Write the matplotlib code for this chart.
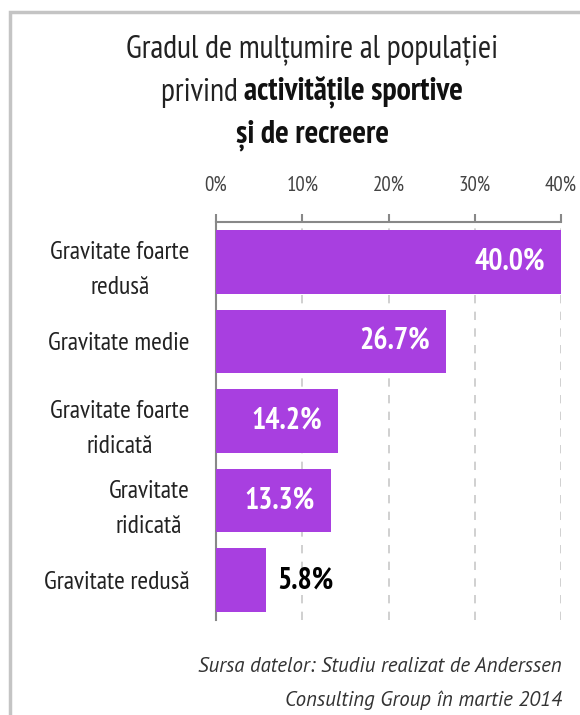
import matplotlib.pyplot as plt
from matplotlib.patches import Rectangle

plt.rcParams['font.family'] = ['PT Sans Narrow', 'DejaVu Sans']

# date
categorii = ['Gravitate foarte\nredusă', 'Gravitate medie', 'Gravitate foarte\nridicată',
             'Gravitate\nridicată', 'Gravitate redusă']
valori = [40.0, 26.7, 14.2, 13.3, 5.8]
ticks = [0, 10, 20, 30, 40]
tick_labels = ['0%', '10%', '20%', '30%', '40%']

culoare = '#A83FE0'
gri = '#444444'

fig = plt.figure(figsize=(5.8, 7.15), dpi=100)
ax = fig.add_axes([216 / 580, 1 - 620 / 715, 345 / 580, 398 / 715])

y = list(range(len(valori)))
ax.barh(y, valori, height=0.8, color=culoare, zorder=3)
ax.set_ylim(len(valori) - 0.5, -0.5)
ax.set_xlim(0, 40)

# etichete valori
for i, v in enumerate(valori):
    txt = f'{v:.1f}%'
    if v > 10:
        ax.annotate(txt, (v, i), xytext=(-11.5, 0), textcoords='offset points',
                    ha='right', va='center', color='white', fontsize=21.5, fontweight='bold')
    else:
        ax.annotate(txt, (v, i), xytext=(8, 0), textcoords='offset points',
                    ha='left', va='center', color='black', fontsize=21.5, fontweight='bold')

ax.set_yticks(y)
ax.set_yticklabels(categorii, fontsize=18.5, color='#222222', multialignment='center',
                   linespacing=1.65)
ax.tick_params(axis='y', length=0, pad=19)

ax.xaxis.tick_top()
ax.set_xticks(ticks)
ax.set_xticklabels(tick_labels, fontsize=15, color=gri)
ax.tick_params(axis='x', length=6, width=1.5, color='#888888', pad=14)

ax.grid(axis='x', color='#c8c8c8', linestyle=(0, (5, 5)), linewidth=1.2, zorder=0)
for s in ['right', 'bottom']:
    ax.spines[s].set_visible(False)
ax.spines['top'].set_color('#888888')
ax.spines['top'].set_linewidth(1.5)
ax.spines['left'].set_color('#888888')
ax.spines['left'].set_linewidth(1.5)

# titlu
cx = 312 / 580
fig.text(cx, 1 - 50 / 715, 'Gradul de mulțumire al populației', ha='center', va='center',
         fontsize=23, color='#222222')
fig.text(cx, 1 - 135 / 715, 'și de recreere', ha='center', va='center',
         fontsize=23, color='#111111', fontweight='bold')

r = fig.canvas.get_renderer()
t1 = fig.text(0, 1 - 93 / 715, 'privind ', ha='left', va='center', fontsize=23, color='#222222')
t2 = fig.text(0, 1 - 93 / 715, 'activitățile sportive', ha='left', va='center', fontsize=23,
              color='#111111', fontweight='bold')
w1 = t1.get_window_extent(r).width / fig.bbox.width
w2 = t2.get_window_extent(r).width / fig.bbox.width
x0 = cx - (w1 + w2) / 2
t1.set_x(x0)
t2.set_x(x0 + w1)

# sursa
fig.text(562 / 580, 1 - 667 / 715, 'Sursa datelor: Studiu realizat de Anderssen',
         ha='right', va='center', fontsize=15, style='italic', color='#333333',
         family=['PT Sans', 'DejaVu Sans'])
fig.text(562 / 580, 1 - 700 / 715, 'Consulting Group în martie 2014',
         ha='right', va='center', fontsize=15, style='italic', color='#333333',
         family=['PT Sans', 'DejaVu Sans'])

# chenar
fig.patches.append(Rectangle((10 / 580, -0.1), 1.2, 1 - 12 / 715 + 0.1, transform=fig.transFigure,
                             fill=False, edgecolor='#c4c4c4', linewidth=2.5, figure=fig))

fig.savefig('out.png', dpi=100)
